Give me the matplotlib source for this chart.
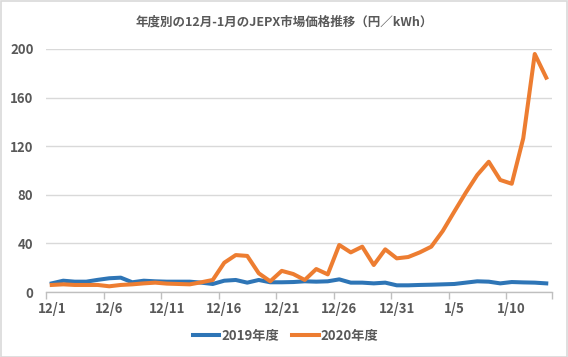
import matplotlib
matplotlib.use("Agg")
import matplotlib.pyplot as plt
from matplotlib.patches import Rectangle
import numpy as np

plt.rcParams['font.family'] = ['Noto Sans CJK JP', 'DejaVu Sans']

dates = [f"12/{d}" for d in range(1, 32)] + [f"1/{d}" for d in range(1, 14)]

fy2019 = [7.1, 9.3, 8.5, 8.5, 10.0, 11.3, 11.8, 8.0, 9.3, 8.8, 8.5,
          8.5, 8.5, 7.7, 6.6, 9.3, 9.9, 7.7, 9.9, 8.0, 8.0,
          8.2, 8.8, 8.5, 8.8, 10.4, 7.7, 7.7, 7.1, 7.7, 5.5,
          5.5, 5.8, 6.0, 6.3, 6.6, 7.7, 8.8, 8.5, 7.1, 8.2, 7.9, 7.7, 7.1]

fy2020 = [5.8, 6.3, 5.8, 5.8, 5.8, 4.7, 5.8, 6.3, 7.1, 7.7, 6.9,
          6.6, 6.3, 8.0, 9.9, 24.1, 30.4, 29.7, 15.4, 8.8, 17.4,
          14.8, 9.9, 18.9, 14.5, 38.7, 32.6, 37.3, 22.2, 35.1, 27.7,
          28.8, 32.6, 37.3, 50.2, 66.1, 81.7, 96.3, 107.2, 92.2, 89.1, 126.5, 195.9, 176.4]

series_names = ["2019年度", "2020年度"]
title = "年度別の12月-1月のJEPX市場価格推移（円／kWh）"
yticks = [0, 40, 80, 120, 160, 200]

W, H = 568, 357
fig = plt.figure(figsize=(W / 100, H / 100), dpi=100)
fig.patch.set_facecolor("white")
fig.patches.append(Rectangle((0.5 / W, 0.5 / H), 1 - 1.5 / W, 1 - 1.5 / H,
                             transform=fig.transFigure, fill=False,
                             edgecolor="#D9D9D9", linewidth=1.2))

ax = fig.add_axes([46 / W, 1 - 292 / H, (552 - 46) / W, (292 - 49) / H])
x = np.arange(len(dates))
blue = "#2E75B6"
orange = "#ED7D31"
ax.plot(x, fy2019, color=blue, linewidth=2.9, solid_joinstyle="round", label=series_names[0], zorder=3)
ax.plot(x, fy2020, color=orange, linewidth=2.9, solid_joinstyle="round", label=series_names[1], zorder=4)

ax.set_xlim(-0.5, len(dates) - 0.5)
ax.set_ylim(0, 200)
ax.set_yticks(yticks)
ax.set_yticklabels([str(v) for v in yticks], fontsize=9.5, fontweight="bold", color="#595959")
ax.grid(axis="y", color="#D9D9D9", linewidth=1)
ax.set_axisbelow(True)

label_idx = list(range(0, len(dates), 5))
ax.set_xticks(label_idx)
ax.set_xticklabels([dates[i] for i in label_idx], fontsize=9.5, fontweight="bold", color="#595959")
ax.tick_params(axis="x", length=0, pad=7)
ax.tick_params(axis="y", length=0, pad=9)
# boundary tick marks
ax.set_xticks([i - 0.5 for i in label_idx] + [len(dates) - 0.5], minor=True)
ax.tick_params(axis="x", which="minor", length=5, color="#BFBFBF", width=1)

for s in ["top", "right", "left"]:
    ax.spines[s].set_visible(False)
ax.spines["bottom"].set_color("#BFBFBF")
ax.spines["bottom"].set_linewidth(1)

fig.text(0.5, 1 - 22 / H, title, ha="center", va="center", fontsize=9,
         fontweight="bold", color="#595959")

leg = fig.legend(loc="center", bbox_to_anchor=(0.503, 1 - 336 / H), ncol=2, frameon=False,
                 prop={"size": 9.5, "weight": "bold"}, handlelength=2.0, handletextpad=0.15,
                 columnspacing=1.0)
for t in leg.get_texts():
    t.set_color("#595959")

fig.savefig("out.png", dpi=100, facecolor="white")
